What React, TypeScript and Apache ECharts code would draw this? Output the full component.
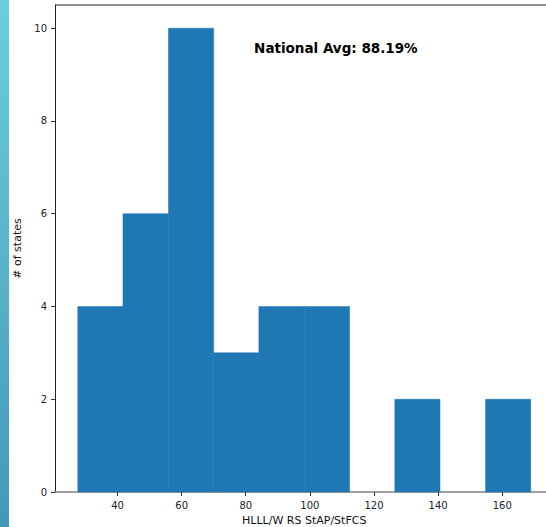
import React, { useEffect, useRef } from "react";
import * as echarts from "echarts";

const binEdges = [27.6, 41.7, 55.9, 70.0, 84.1, 98.3, 112.4, 126.5, 140.6, 154.8, 168.9];
const counts = [4, 6, 10, 3, 4, 4, 0, 2, 0, 2];
const xTicks = [40, 60, 80, 100, 120, 140, 160];
const yTicks = [0, 2, 4, 6, 8, 10];
const xName = "HLLL/W RS StAP/StFCS";
const yName = "# of states";
const note = "National Avg: 88.19%";
const notePos = [82.6, 9.5];

export default function App() {
  const ref = useRef<HTMLDivElement>(null);
  useEffect(() => {
    const el = ref.current!;
    const chart = echarts.init(el, null, { renderer: "svg" });
    const data = counts.map((c, i) => [binEdges[i], binEdges[i + 1], c]);
    chart.setOption({
      animation: false,
      backgroundColor: "#ffffff",
      grid: { left: 55, top: 5, width: 498.5, bottom: 35, outerBoundsMode: "none", containLabel: false },
      xAxis: {
        type: "value",
        min: 20.5,
        max: 176,
        name: xName,
        nameLocation: "middle",
        nameGap: 22,
        nameTextStyle: { fontFamily: "DejaVu Sans", fontSize: 11, color: "#111" },
        axisLine: { show: true, onZero: false, lineStyle: { color: "#808080", width: 1.6 } },
        axisTick: { show: true, customValues: xTicks, length: 4, lineStyle: { color: "#333" } },
        axisLabel: { customValues: xTicks, fontFamily: "DejaVu Sans", fontSize: 10, color: "#222", margin: 8 },
        splitLine: { show: false },
      },
      yAxis: {
        type: "value",
        min: 0,
        max: 10.5,
        name: yName,
        nameLocation: "middle",
        nameGap: 24,
        nameTextStyle: { fontFamily: "DejaVu Sans", fontSize: 11, color: "#111" },
        axisLine: { show: true, lineStyle: { color: "#222", width: 1 } },
        axisTick: { show: true, customValues: yTicks, length: 4, lineStyle: { color: "#333" } },
        axisLabel: { customValues: yTicks, fontFamily: "DejaVu Sans", fontSize: 10, color: "#222", margin: 8 },
        splitLine: { show: false },
      },
      series: [
        {
          type: "custom",
          data,
          encode: { x: [0, 1], y: 2 },
          renderItem: (params: any, api: any) => {
            if (!api.value(2)) return null;
            const p0 = api.coord([api.value(0), api.value(2)]);
            const p1 = api.coord([api.value(1), 0]);
            return {
              type: "rect",
              shape: { x: p0[0], y: p0[1], width: p1[0] - p0[0], height: p1[1] - p0[1] },
              style: { fill: "#1f77b4", stroke: "#1f77b4", lineWidth: 0.5 },
            };
          },
        },
      ],
    });
    const p = chart.convertToPixel({ gridIndex: 0 }, notePos) as number[];
    chart.setOption({
      graphic: [
        {
          type: "rect",
          left: 0,
          top: 0,
          shape: { x: 0, y: 0, width: 9, height: 527 },
          style: {
            fill: new echarts.graphic.LinearGradient(0, 0, 0, 1, [
              { offset: 0, color: "#6dcde0" },
              { offset: 1, color: "#4399b5" },
            ]),
          },
        },
        {
          type: "line",
          shape: { x1: 55, y1: 5, x2: 546, y2: 5 },
          style: { stroke: "#222", lineWidth: 1.2 },
        },
        {
          type: "text",
          x: p[0],
          y: p[1] + 4,
          style: {
            text: note,
            fontFamily: "DejaVu Sans",
            fontWeight: "bold",
            fontSize: 13.5,
            fill: "#000",
            verticalAlign: "bottom",
            align: "left",
          },
        },
      ],
    });
    return () => chart.dispose();
  }, []);
  return (
    <div
      ref={ref}
      style={{ position: "fixed", left: 0, top: 0, width: 546, height: 527 }}
    />
  );
}
